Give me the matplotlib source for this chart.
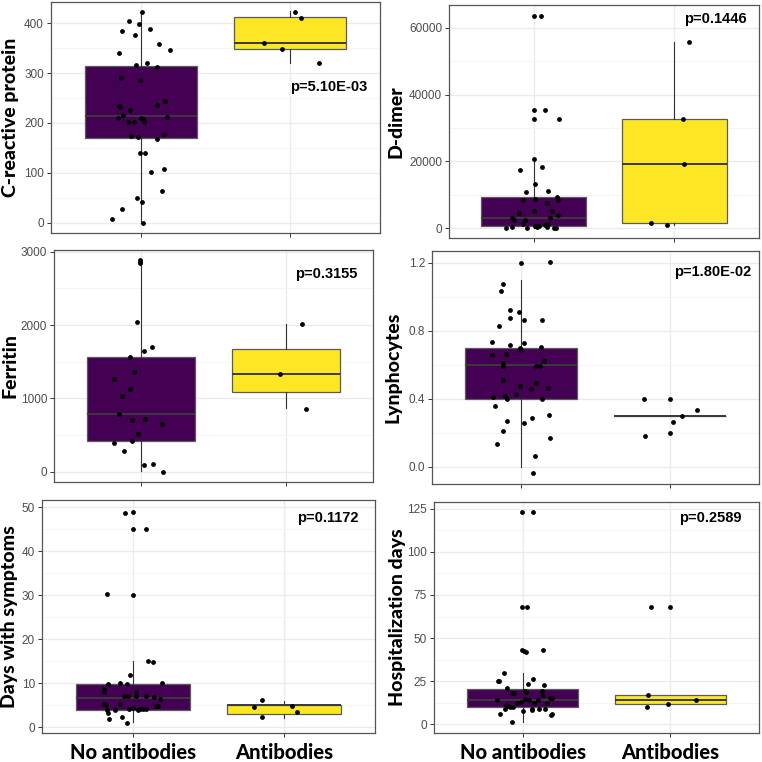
import matplotlib.pyplot as plt
from matplotlib.ticker import MultipleLocator, FormatStrFormatter

groups = ["No antibodies", "Antibodies"]

# box stats per group: q1, median, q3, whisker low, whisker high
crp_box = [[170, 214, 315, 0, 424], [348, 360, 412, 321, 424]]
ddimer_box = [[700, 3100, 9400, 0, 20600], [1500, 19200, 32600, 900, 55600]]
ferritin_box = [[418, 791, 1568, 10, 2890], [1091, 1327, 1668, 864, 2009]]
lympho_box = [[0.40, 0.60, 0.70, 0.0, 1.10], [0.30, 0.30, 0.30, 0.30, 0.30]]
days_box = [[3.93, 6.5, 9.83, 1.06, 15], [3.0, 5.0, 5.05, 2.0, 6.0]]
hosp_box = [[10.0, 14.1, 20.6, 1.2, 30], [12.0, 14.0, 17.0, 12.0, 17.0]]

# jittered points: horizontal offset from the group, value
crp_no_dx = [0.011, -0.078, -0.009, -0.127, 0.062, -0.040, 0.123, 0.194, -0.143, -0.031, 0.042,
             0.109, -0.132, -0.002, 0.163, -0.147, -0.138, 0.111, -0.071, -0.116, -0.154, 0.002,
             0.016, 0.176, 0.025, -0.082, -0.045, -0.062, -0.016, 0.109, 0.156, -0.004, 0.031,
             0.067, 0.158, 0.145, -0.022, 0.011, -0.127, -0.194, 0.016]
crp_no = [423, 405, 399, 385, 389, 377, 358, 346, 340, 316, 321, 312, 291, 286, 244, 234, 233, 237,
          226, 216, 211, 211, 208, 213, 202, 201, 201, 174, 171, 168, 178, 139, 139, 102, 107, 64,
          49, 41, 28, 7, 0]
crp_ab_dx = [0.029, 0.074, -0.176, -0.058, 0.192]
crp_ab = [423, 411, 360, 348, 320]

ddimer_no_dx = [0.005, 0.056, 0.0, 0.084, 0.0, 0.180, 0.002, -0.098, 0.059, 0.007, -0.052, 0.103,
                -0.073, 0.007, 0.098, 0.164, 0.176, -0.105, 0.002, 0.129, -0.152, 0.117, 0.176,
                -0.138, -0.063, -0.075, 0.012, 0.021, 0.037, 0.082, 0.105, 0.098, 0.157, 0.143,
                -0.199, -0.152, -0.044, 0.016]
ddimer_no = [63600, 63600, 35300, 35300, 32600, 32600, 20600, 17300, 18200, 13300, 10900, 11100,
             8400, 8700, 7700, 9500, 8600, 4600, 5200, 5300, 3200, 3000, 4000, 2400, 2400, 1400,
             800, 500, 800, 1000, 1200, 400, 200, 100, 100, 400, 100, 700]
ddimer_ab_dx = [-0.164, -0.054, 0.068, 0.063, 0.101]
ddimer_ab = [1500, 900, 19100, 32600, 55600]

ferritin_no_dx = [-0.005, -0.005, -0.005, -0.025, 0.074, 0.023, -0.076, -0.046, -0.186, -0.074,
                  -0.133, -0.154, -0.064, 0.030, 0.145, -0.018, -0.062, -0.184, -0.117, 0.023,
                  0.080, 0.149]
ferritin_no = [2891, 2864, 2841, 2036, 1700, 1641, 1564, 1364, 1268, 1123, 1027, 791, 709, 723,
               650, 518, 414, 395, 282, 91, 105, 0]
ferritin_ab_dx = [-0.044, 0.113, 0.140]
ferritin_ab = [1327, 2014, 855]

lympho_no_dx = [0.002, 0.193, -0.120, -0.138, -0.073, -0.013, -0.073, 0.016, 0.140, -0.149, -0.196,
                0.018, -0.076, 0.136, -0.011, -0.004, -0.193, -0.100, 0.153, -0.120, -0.124, 0.100,
                0.124, -0.120, 0.100, -0.009, 0.064, 0.178, -0.187, -0.111, -0.098, -0.036, 0.140,
                -0.173, -0.098, 0.018, 0.076, 0.189, -0.124, 0.191, -0.162, 0.093, 0.078]
lympho_no = [1.198, 1.206, 1.073, 1.032, 0.922, 0.908, 0.875, 0.865, 0.861, 0.826, 0.734, 0.726,
             0.715, 0.705, 0.697, 0.685, 0.660, 0.662, 0.625, 0.609, 0.591, 0.593, 0.595, 0.513,
             0.495, 0.474, 0.460, 0.466, 0.413, 0.417, 0.401, 0.427, 0.399, 0.360, 0.272, 0.260,
             0.288, 0.303, 0.209, 0.170, 0.135, 0.065, -0.037]
lympho_ab_dx = [-0.176, 0.0, -0.167, 0.0, 0.020, 0.080, 0.184]
lympho_ab = [0.401, 0.399, 0.180, 0.200, 0.264, 0.301, 0.337]

days_no_dx = [-0.051, -0.002, -0.002, 0.088, -0.168, -0.002, 0.100, 0.135, -0.018, -0.164, -0.082,
              -0.038, 0.195, -0.188, -0.188, 0.024, 0.086, -0.060, -0.029, 0.024, 0.137, 0.177,
              -0.188, -0.177, -0.084, 0.168, 0.150, 0.004, -0.027, 0.035, 0.049, 0.066, 0.086,
              -0.173, -0.117, -0.166, -0.157, -0.071, -0.038]
days_no = [48.7, 48.9, 44.9, 44.9, 30.2, 30.0, 14.9, 14.8, 11.9, 9.7, 10.1, 9.8, 10.1, 8.7, 7.9,
           8.0, 7.0, 7.1, 7.0, 7.0, 6.8, 6.3, 5.3, 5.0, 5.2, 4.8, 4.7, 4.3, 4.0, 3.9, 4.0, 4.0, 4.0,
           3.8, 3.8, 3.2, 1.8, 2.3, 1.0]
days_ab_dx = [-0.199, -0.148, -0.148, 0.053, 0.086]
days_ab = [4.6, 6.05, 2.2, 4.84, 3.33]

hosp_no_dx = [-0.002, 0.072, -0.002, 0.032, -0.002, 0.009, 0.020, 0.135, -0.124, 0.070, -0.169,
              -0.158, 0.146, 0.036, -0.108, 0.128, 0.014, 0.023, -0.074, -0.056, 0.140, 0.185,
              0.196, -0.171, 0.018, 0.043, 0.106, 0.162, -0.113, -0.009, 0.079, -0.097, -0.083,
              -0.119, -0.063, 0.065, 0.149, 0.108, 0.005, -0.151, 0.189, 0.198, -0.070, 0.065,
              -0.041]
hosp_no = [123.1, 123.1, 68.0, 68.0, 43.1, 42.4, 41.8, 43.1, 29.9, 26.4, 25.0, 25.0, 22.7, 23.3,
           20.8, 19.6, 19.3, 18.9, 18.1, 18.1, 17.3, 15.2, 15.2, 13.9, 14.6, 14.1, 14.1, 12.3,
           11.4, 12.7, 12.1, 10.4, 10.0, 9.1, 10.0, 9.1, 9.1, 9.1, 7.5, 6.2, 5.4, 6.0, 1.3, 8.1,
           12.5]
hosp_ab_dx = [-0.151, -0.155, -0.016, 0.173, -0.133, 0.0]
hosp_ab = [16.8, 10.0, 11.9, 14.1, 68.0, 68.0]

p_values = ["p=5.10E-03", "p=0.1446", "p=0.3155", "p=1.80E-02", "p=0.1172", "p=0.2589"]
ylabels = ["C-reactive protein", "D-dimer", "Ferritin", "Lynphocytes",
           "Days with symptoms", "Hospitalization days"]

COLORS = ["#440154", "#FDE725"]
W = 762.0


def px_rect(l, r, t, b):
    return [l / W, 1 - b / W, (r - l) / W, (b - t) / W]


panels = [
    # rect(px), box, points, ylim, major, minor, fmt, p-text pos, bottom row, ylabel x(px)
    (px_rect(51, 380, 2, 233), crp_box, [(crp_no_dx, crp_no), (crp_ab_dx, crp_ab)],
     (-21, 443), 100, 50, "%d", (2.26, 273), False, 11),
    (px_rect(449, 759, 5, 238), ddimer_box, [(ddimer_no_dx, ddimer_no), (ddimer_ab_dx, ddimer_ab)],
     (-2900, 66800), 20000, 10000, "%d", (2.29, 62700), False, 396),
    (px_rect(54, 373, 250, 482), ferritin_box, [(ferritin_no_dx, ferritin_no), (ferritin_ab_dx, ferritin_ab)],
     (-141, 3023), 1000, 500, "%d", (2.28, 2691), False, 10),
    (px_rect(432, 759, 251, 484), lympho_box, [(lympho_no_dx, lympho_no), (lympho_ab_dx, lympho_ab)],
     (-0.1, 1.269), 0.4, 0.2, "%.1f", (2.29, 1.147), False, 393),
    (px_rect(42, 375, 500, 733), days_box, [(days_no_dx, days_no), (days_ab_dx, days_ab)],
     (-1.36, 51.6), 10, 5, "%d", (2.29, 47.4), True, 10),
    (px_rect(434, 759, 502, 733), hosp_box, [(hosp_no_dx, hosp_no), (hosp_ab_dx, hosp_ab)],
     (-5.0, 128.9), 25, 12.5, "%d", (2.27, 119.8), True, 397),
]

LABEL_FONT = dict(family="Lato", fontweight="black")

fig = plt.figure(figsize=(7.62, 7.62), dpi=100)

for i, (rect, box, pts, ylim, major, minor, fmt, ppos, bottom, labx) in enumerate(panels):
    ax = fig.add_axes(rect)
    stats = []
    for b in box:
        stats.append(dict(q1=b[0], med=b[1], q3=b[2], whislo=b[3], whishi=b[4]))
    bp = ax.bxp(stats, positions=[1, 2], widths=0.75, patch_artist=True, showfliers=False,
                showcaps=False,
                boxprops=dict(edgecolor="#5a5a5a", linewidth=0.9),
                whiskerprops=dict(color="#333333", linewidth=0.8),
                medianprops=dict(color="#3a3a3a", linewidth=1.4),
                zorder=2)
    for patch, c in zip(bp["boxes"], COLORS):
        patch.set_facecolor(c)

    for g, (dx, vals) in enumerate(pts):
        ax.scatter([g + 1 + d for d in dx], vals, s=12, color="black", zorder=3, linewidths=0)

    ax.set_xlim(0.4, 2.6)
    ax.set_ylim(*ylim)
    ax.yaxis.set_major_locator(MultipleLocator(major))
    ax.yaxis.set_minor_locator(MultipleLocator(minor))
    ax.yaxis.set_major_formatter(FormatStrFormatter(fmt))
    ax.set_xticks([1, 2])

    ax.grid(which="major", color="#EBEBEB", linewidth=1.0, zorder=0)
    ax.grid(which="minor", axis="y", color="#F3F3F3", linewidth=0.6, zorder=0)
    ax.set_axisbelow(True)
    ax.tick_params(axis="y", which="minor", length=0)
    ax.tick_params(axis="both", which="major", length=3, color="#333333", width=0.7)
    ax.tick_params(axis="y", labelsize=8.5, labelcolor="#4D4D4D", pad=2)
    for lab in ax.get_yticklabels():
        lab.set_family("Liberation Sans")
    if bottom:
        ax.set_xticklabels(groups, fontsize=14.5, color="black", **LABEL_FONT)
        ax.tick_params(axis="x", pad=4)
    else:
        ax.set_xticklabels(["", ""])
    for s in ax.spines.values():
        s.set_color("#555555")
        s.set_linewidth(0.9)

    fig.text(labx / W, rect[1] + rect[3] / 2, ylabels[i], rotation=90, fontsize=14,
             ha="center", va="center", **LABEL_FONT)
    ax.text(ppos[0], ppos[1], p_values[i], fontsize=10.5, fontweight="bold",
            family="Liberation Sans", ha="center", va="center", zorder=4)

fig.savefig("out.png", dpi=100)
